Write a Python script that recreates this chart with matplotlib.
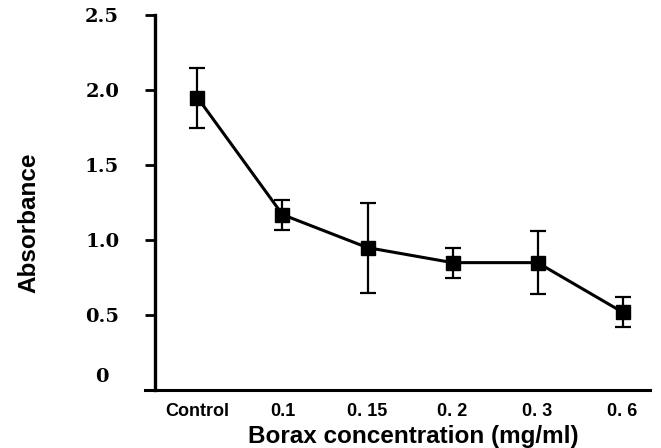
import numpy as np
import matplotlib.pyplot as plt
import matplotlib.transforms as mtransforms

# data
labels = ['Control', '0.1', '0. 15', '0. 2', '0. 3', '0. 6']
absorbance = [1.95, 1.17, 0.95, 0.85, 0.85, 0.52]
errors = [0.20, 0.10, 0.30, 0.10, 0.21, 0.10]
yticks = [0, 0.5, 1.0, 1.5, 2.0, 2.5]
ytick_labels = ['0', '0.5', '1.0', '1.5', '2.0', '2.5']

fig = plt.figure(figsize=(6.61, 4.48), dpi=100)
ax = fig.add_axes([0.219, 0.129, 0.764, 0.8375])

x = np.arange(len(labels))
ax.errorbar(x, absorbance, yerr=errors, color='black', lw=2.2,
            marker='s', markersize=10, elinewidth=1.6, capsize=6, capthick=1.6)

ax.set_xlim(-0.62, 5.32)
ax.set_ylim(0, 2.5)

for side in ['top', 'right']:
    ax.spines[side].set_visible(False)
ax.spines['left'].set_position(('data', -0.5))
ax.spines['left'].set_linewidth(2.4)
ax.spines['bottom'].set_linewidth(2.2)

ax.set_xticks(x)
ax.set_xticklabels(labels, fontsize=13, fontweight='bold', family='Liberation Sans')
ax.tick_params(axis='x', length=0, pad=9)

ax.set_yticks(yticks)
ax.set_yticklabels(ytick_labels, fontsize=14, fontweight='bold', family='DejaVu Serif')
ax.tick_params(axis='y', length=7, width=2, pad=31)
for t in ax.get_yticklabels():
    t.set_horizontalalignment('center')
# the "0" label sits above the axis in the original
zero = ax.get_yticklabels()[0]
zero.set_transform(zero.get_transform() + mtransforms.ScaledTranslation(0, 15 / 100, fig.dpi_scale_trans))

ax.set_xlabel('Borax concentration (mg/ml)', fontsize=17.5, fontweight='bold',
              family='Liberation Sans')
ax.xaxis.set_label_coords(0.531, -0.093)
ax.set_ylabel('Absorbance', fontsize=17.5, fontweight='bold', family='Liberation Sans')
ax.yaxis.set_label_coords(-0.206, 0.445)

fig.savefig('out.png', dpi=100)
